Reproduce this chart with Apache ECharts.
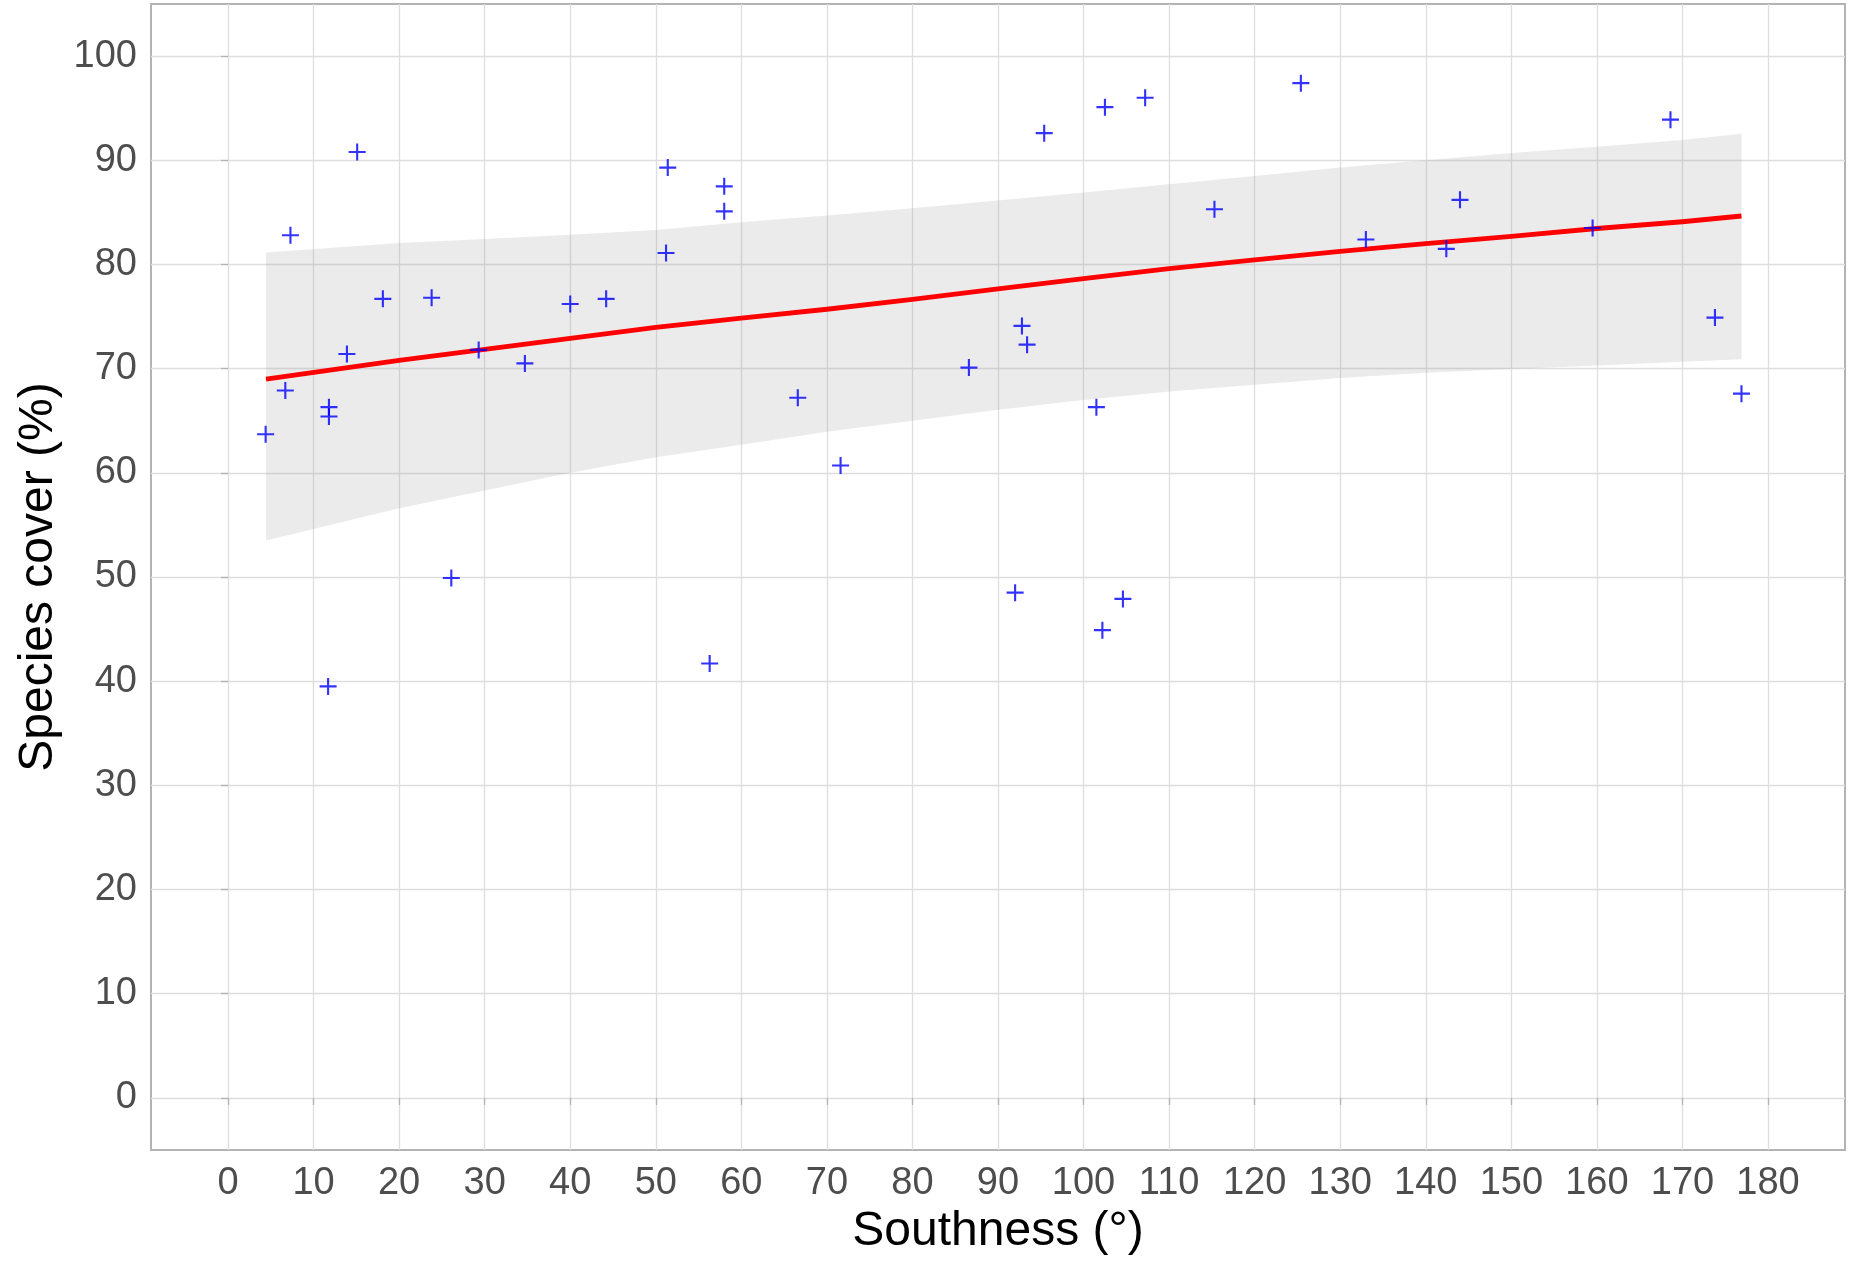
<!DOCTYPE html>
<html><head><meta charset="utf-8">
<script src="https://cdn.jsdelivr.net/npm/echarts@6/dist/echarts.min.js"></script>
<style>html,body{margin:0;padding:0;background:#fff}#c{width:1860px;height:1268px}</style>
</head><body><div id="c"></div>
<script>
// Observed data: southness (°) and species cover (%)
const southness = [4.4, 6.7, 7.3, 11.8, 11.8, 11.7, 13.9, 15.1, 18.1, 23.8, 26.1, 29.3, 34.7, 40.0, 44.2,
  51.4, 51.2, 56.3, 58.0, 58.0, 66.6, 71.6, 86.6, 92.0, 92.8, 93.4, 95.4, 101.5, 102.2, 102.5, 104.6,
  107.2, 115.3, 125.4, 133.0, 142.4, 144.0, 159.5, 168.6, 173.8, 176.9];
const cover = [63.7, 67.9, 82.8, 66.3, 65.4, 39.5, 71.4, 90.8, 76.7, 76.8, 49.9, 71.8, 70.5, 76.2, 76.7,
  89.3, 81.1, 41.7, 87.5, 85.1, 67.2, 60.7, 70.1, 48.5, 74.1, 72.3, 92.6, 66.3, 44.9, 95.1, 47.9,
  96.0, 85.3, 97.4, 82.4, 81.5, 86.2, 83.5, 93.9, 74.9, 67.6];

// Fitted trend and confidence band
const fitX    = [4.44, 20, 30, 40, 50, 60, 70, 80, 90, 100, 110, 120, 130, 140, 150, 160, 170, 176.9];
const fitY    = [69.0, 70.8, 71.85, 72.9, 73.95, 74.85, 75.7, 76.65, 77.65, 78.65, 79.6, 80.45, 81.25, 82.0, 82.7, 83.45, 84.1, 84.65];
const ciLower = [53.5, 56.6, 58.3, 60.0, 61.5, 62.7, 63.95, 65.0, 66.05, 67.0, 67.8, 68.45, 69.1, 69.6, 69.97, 70.3, 70.65, 70.9];
const ciUpper = [81.15, 82.05, 82.45, 82.85, 83.3, 84.05, 84.7, 85.4, 86.15, 86.9, 87.7, 88.5, 89.3, 90.0, 90.7, 91.3, 91.95, 92.55];

// Tick labels
const xTicks = [0, 10, 20, 30, 40, 50, 60, 70, 80, 90, 100, 110, 120, 130, 140, 150, 160, 170, 180];
const yTicks = [0, 10, 20, 30, 40, 50, 60, 70, 80, 90, 100];

const chart = echarts.init(document.getElementById('c'), null, {renderer: 'canvas'});

const tickFont = {fontFamily: 'Liberation Sans, Arial, sans-serif', fontSize: 38, color: '#4d4d4d'};
const gridLine = {show: true, lineStyle: {color: '#dedede', width: 1.3}};
const tickStyle = {color: '#b3b3b3', width: 1.3};

const option = {
  backgroundColor: '#ffffff',
  animation: false,
  grid: {left: 151, right: 15, top: 4, bottom: 118, show: true, borderColor: '#b3b3b3', borderWidth: 2, backgroundColor: 'transparent'},
  xAxis: {
    type: 'value', min: -9, max: 189,
    axisLine: {show: false},
    axisTick: {show: true, length: 7, lineStyle: tickStyle, customValues: xTicks},
    axisLabel: Object.assign({margin: 15, customValues: xTicks}, tickFont),
    splitLine: gridLine,
    minorTick: {show: false}, minorSplitLine: {show: false}
  },
  yAxis: {
    type: 'value', min: -5, max: 105,
    axisLine: {show: false},
    axisTick: {show: true, length: 7, lineStyle: tickStyle, customValues: yTicks},
    axisLabel: Object.assign({margin: 14, customValues: yTicks}, tickFont),
    splitLine: gridLine,
    minorTick: {show: false}, minorSplitLine: {show: false}
  },
  graphic: [
    {type: 'text', style: {text: 'Southness (°)', x: 998, y: 1232, fill: '#000', font: '48px "Liberation Sans", Arial, sans-serif', textAlign: 'center', textVerticalAlign: 'middle'}},
    {type: 'text', style: {text: 'Species cover (%)', x: 0, y: 0, fill: '#000', font: '48px "Liberation Sans", Arial, sans-serif', textAlign: 'center', textVerticalAlign: 'middle'}, x: 39, y: 577, rotation: Math.PI / 2}
  ],
  series: [
    {
      type: 'custom', name: 'band', z: 1, silent: true,
      data: [[fitX[0], ciLower[0]]],
      renderItem: function (params, api) {
        const pts = [];
        for (let i = 0; i < fitX.length; i++) pts.push(api.coord([fitX[i], ciUpper[i]]));
        for (let i = fitX.length - 1; i >= 0; i--) pts.push(api.coord([fitX[i], ciLower[i]]));
        return {type: 'polygon', shape: {points: pts}, style: {fill: 'rgba(153,153,153,0.2)', stroke: 'none'}};
      }
    },
    {
      type: 'line', name: 'fit', z: 3, silent: true,
      data: fitX.map((x, i) => [x, fitY[i]]),
      showSymbol: false, symbol: 'none',
      lineStyle: {color: '#ff0000', width: 4.8, join: 'round'}
    },
    {
      type: 'scatter', name: 'plots', z: 5,
      data: southness.map((x, i) => [x, cover[i]]),
      symbol: 'path://M7,0H9V16H7Z M0,7H16V9H0Z',
      symbolSize: 17,
      itemStyle: {color: '#0000ff'}
    }
  ]
};
chart.setOption(option);
</script>
</body></html>
